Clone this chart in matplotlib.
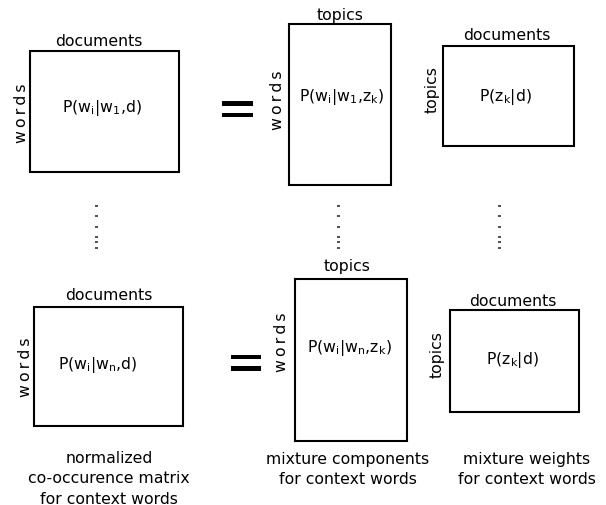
import matplotlib
matplotlib.use("Agg")
import matplotlib.pyplot as plt
from matplotlib.patches import Rectangle

plt.rcParams['font.family'] = ['DejaVu Sans']
plt.rcParams['mathtext.default'] = 'regular'

W, H = 606, 506
TS = "\u2009"  # thin space for the spaced-out "words" labels
WORDS = TS.join("words")

# boxes: left, top, right, bottom (pixels)
boxes = [
    (30, 52, 179, 173),
    (289, 25, 391, 186),
    (443, 47, 574, 147),
    (34, 308, 183, 427),
    (295, 280, 407, 442),
    (450, 311, 579, 413),
]
box_text = [
    "P(w$_i$|w$_1$,d)", "P(w$_i$|w$_1$,z$_k$)", "P(z$_k$|d)",
    "P(w$_i$|w$_n$,d)", "P(w$_i$|w$_n$,z$_k$)", "P(z$_k$|d)",
]
text_pos = [(102, 108), (342, 97), (505, 97), (98, 365), (349, 348), (512, 360)]
top_labels = ["documents", "topics", "documents", "documents", "topics", "documents"]
top_pos = [(99, 41), (340, 15), (507, 35), (109, 295), (347, 267), (513, 301)]
side_labels = [WORDS, WORDS, "topics", WORDS, WORDS, "topics"]
side_pos = [(21, 113), (277, 100), (432, 90), (25, 367), (282, 342), (437, 355)]

# equals signs: x0, x1, (bar1 top, bar1 bottom), (bar2 top, bar2 bottom)
equals = [
    (222, 253, (102, 107), (114, 118)),
    (231, 261, (356, 360), (367, 372)),
]

dot_cols = [96, 338, 499]
dot_ys = [207, 217, 228, 238, 243, 249]

captions = [
    "normalized\nco-occurence matrix\nfor context words",
    "mixture components\nfor context words",
    "mixture weights\nfor context words",
]
caption_pos = [(109, 451), (348, 452), (527, 452)]

fig = plt.figure(figsize=(W / 100, H / 100), dpi=100)
ax = fig.add_axes([0, 0, 1, 1])
ax.set_xlim(0, W)
ax.set_ylim(H, 0)
ax.axis("off")

fs = 11.3
for (l, t, r, b) in boxes:
    ax.add_patch(Rectangle((l, t), r - l, b - t, fill=False, lw=1.5, ec="black"))
for s, (x, y) in zip(box_text, text_pos):
    ax.text(x, y, s, ha="center", va="center", fontsize=fs)
for s, (x, y) in zip(top_labels, top_pos):
    ax.text(x, y, s, ha="center", va="center", fontsize=fs)
for s, (x, y) in zip(side_labels, side_pos):
    ax.text(x, y, s, ha="center", va="center", fontsize=fs, rotation=90)

for x0, x1, b1, b2 in equals:
    for (y0, y1) in (b1, b2):
        ax.add_patch(Rectangle((x0, y0), x1 - x0, y1 - y0, color="black", lw=0))

for x in dot_cols:
    for y in dot_ys:
        ax.add_patch(Rectangle((x - 1.5, y - 0.7), 3, 1.4, color="#555555", lw=0))

for s, (x, y) in zip(captions, caption_pos):
    ax.text(x, y, s, ha="center", va="top", fontsize=fs, linespacing=1.45,
            multialignment="center")

fig.savefig("out.png", dpi=100)
